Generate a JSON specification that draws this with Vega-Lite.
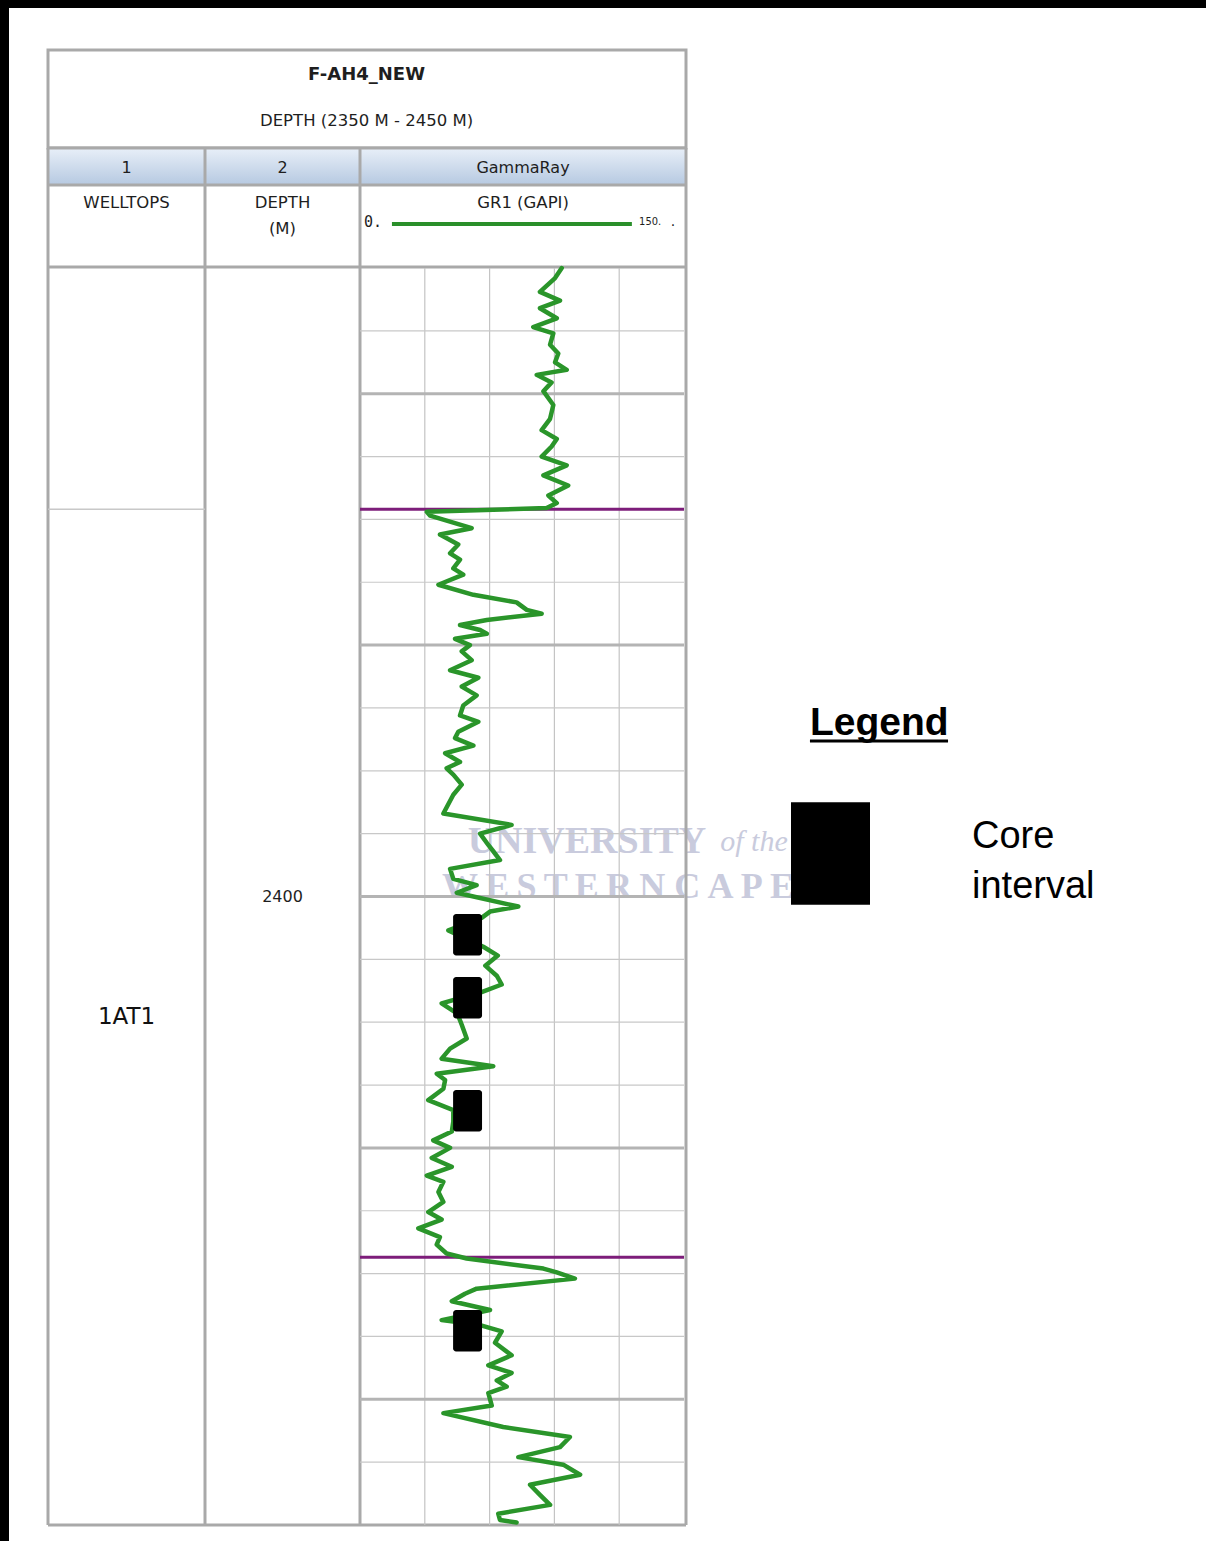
{
  "$schema": "https://vega.github.io/schema/vega-lite/v6.json",
  "width": 1206,
  "height": 1541,
  "autosize": {"type": "none"},
  "padding": 0,
  "background": "white",
  "config": {"view": {"stroke": null}},
  "datasets": {
    "gr": [
      {"depth":2350.0,"gr":93.4},{"depth":2350.8,"gr":90.3},{"depth":2351.9,"gr":83.3},{"depth":2352.6,"gr":92.6},
      {"depth":2353.2,"gr":83.3},{"depth":2354.0,"gr":91.1},{"depth":2354.7,"gr":80.2},{"depth":2355.2,"gr":89.5},
      {"depth":2356.1,"gr":88.0},{"depth":2356.8,"gr":91.8},{"depth":2357.5,"gr":90.3},{"depth":2358.1,"gr":95.7},
      {"depth":2358.5,"gr":81.8},{"depth":2359.1,"gr":88.7},{"depth":2359.8,"gr":84.9},{"depth":2360.9,"gr":89.5},
      {"depth":2362.0,"gr":88.0},{"depth":2362.9,"gr":84.1},{"depth":2363.6,"gr":91.1},{"depth":2364.2,"gr":88.7},
      {"depth":2365.0,"gr":84.1},{"depth":2365.7,"gr":95.7},{"depth":2366.5,"gr":84.9},{"depth":2367.3,"gr":96.4},
      {"depth":2368.1,"gr":87.2},{"depth":2368.7,"gr":91.1},{"depth":2369.1,"gr":86.4},{"depth":2369.4,"gr":30.9},
      {"depth":2369.7,"gr":32.4},{"depth":2370.7,"gr":51.7},{"depth":2371.2,"gr":37.0},{"depth":2372.0,"gr":45.5},
      {"depth":2372.7,"gr":41.7},{"depth":2373.2,"gr":46.3},{"depth":2373.9,"gr":43.2},{"depth":2374.4,"gr":47.8},
      {"depth":2375.2,"gr":36.3},{"depth":2376.0,"gr":52.5},{"depth":2376.6,"gr":72.5},{"depth":2377.2,"gr":77.2},
      {"depth":2377.5,"gr":84.1},{"depth":2378.0,"gr":58.7},{"depth":2378.4,"gr":46.3},{"depth":2378.8,"gr":55.6},
      {"depth":2379.1,"gr":58.7},{"depth":2379.5,"gr":44.0},{"depth":2380.0,"gr":50.9},{"depth":2380.5,"gr":47.1},
      {"depth":2381.2,"gr":51.7},{"depth":2382.0,"gr":41.7},{"depth":2382.6,"gr":54.8},{"depth":2383.3,"gr":47.1},
      {"depth":2384.0,"gr":54.0},{"depth":2384.8,"gr":47.8},{"depth":2385.6,"gr":46.3},{"depth":2386.1,"gr":54.8},
      {"depth":2386.9,"gr":45.5},{"depth":2387.4,"gr":44.0},{"depth":2388.0,"gr":52.5},{"depth":2388.6,"gr":39.4},
      {"depth":2389.3,"gr":46.3},{"depth":2389.8,"gr":40.1},{"depth":2390.3,"gr":43.2},{"depth":2391.1,"gr":47.1},
      {"depth":2391.9,"gr":43.2},{"depth":2393.4,"gr":38.6},{"depth":2394.3,"gr":70.2},{"depth":2395.0,"gr":55.6},
      {"depth":2395.9,"gr":59.4},{"depth":2396.4,"gr":61.7},{"depth":2397.1,"gr":64.8},{"depth":2397.8,"gr":41.7},
      {"depth":2398.6,"gr":43.2},{"depth":2399.1,"gr":54.0},{"depth":2399.7,"gr":44.8},{"depth":2400.8,"gr":73.3},
      {"depth":2401.2,"gr":60.2},{"depth":2401.7,"gr":56.3},{"depth":2402.7,"gr":40.9},{"depth":2404.0,"gr":57.1},
      {"depth":2404.7,"gr":63.8},{"depth":2405.5,"gr":58.0},{"depth":2406.3,"gr":63.3},{"depth":2407.0,"gr":65.6},
      {"depth":2407.6,"gr":56.3},{"depth":2408.5,"gr":37.8},{"depth":2409.2,"gr":44.0},{"depth":2409.5,"gr":45.5},
      {"depth":2410.2,"gr":47.1},{"depth":2411.3,"gr":49.4},{"depth":2412.1,"gr":41.7},{"depth":2412.9,"gr":37.8},
      {"depth":2413.5,"gr":61.7},{"depth":2414.1,"gr":35.5},{"depth":2414.6,"gr":39.4},{"depth":2415.3,"gr":38.6},
      {"depth":2416.2,"gr":31.6},{"depth":2417.0,"gr":43.2},{"depth":2417.9,"gr":43.2},{"depth":2418.7,"gr":42.5},
      {"depth":2419.4,"gr":33.9},{"depth":2420.0,"gr":41.7},{"depth":2420.8,"gr":33.2},{"depth":2421.5,"gr":42.5},
      {"depth":2422.2,"gr":30.9},{"depth":2422.7,"gr":38.6},{"depth":2423.5,"gr":36.3},{"depth":2424.3,"gr":38.6},
      {"depth":2425.1,"gr":31.6},{"depth":2425.7,"gr":37.8},{"depth":2426.4,"gr":27.0},{"depth":2427.1,"gr":37.0},
      {"depth":2427.7,"gr":35.5},{"depth":2428.4,"gr":40.1},{"depth":2428.8,"gr":49.4},{"depth":2429.6,"gr":84.9},
      {"depth":2429.9,"gr":91.1},{"depth":2430.4,"gr":99.5},{"depth":2431.2,"gr":54.0},{"depth":2431.6,"gr":48.6},
      {"depth":2432.2,"gr":42.5},{"depth":2432.9,"gr":60.2},{"depth":2433.7,"gr":37.8},{"depth":2434.1,"gr":55.6},
      {"depth":2434.6,"gr":65.6},{"depth":2435.5,"gr":62.5},{"depth":2436.5,"gr":70.2},{"depth":2437.3,"gr":59.4},
      {"depth":2437.9,"gr":70.2},{"depth":2438.5,"gr":63.3},{"depth":2439.0,"gr":67.9},{"depth":2439.5,"gr":59.4},
      {"depth":2440.5,"gr":61.0},{"depth":2441.1,"gr":38.6},{"depth":2442.2,"gr":66.3},{"depth":2443.0,"gr":97.2},
      {"depth":2443.8,"gr":92.6},{"depth":2444.6,"gr":73.3},{"depth":2445.2,"gr":94.1},{"depth":2446.0,"gr":101.9},
      {"depth":2446.8,"gr":78.7},{"depth":2447.6,"gr":83.3},{"depth":2448.4,"gr":88.0},{"depth":2449.1,"gr":64.0},
      {"depth":2449.6,"gr":64.8},{"depth":2449.8,"gr":72.5}
    ],
    "cores": [
      {"top":2401.4,"base":2404.7,"kind":"Core interval"},
      {"top":2406.4,"base":2409.7,"kind":"Core interval"},
      {"top":2415.4,"base":2418.7,"kind":"Core interval"},
      {"top":2432.9,"base":2436.2,"kind":"Core interval"}
    ],
    "tops": [
      {"name":"1AT1","depth":2369.2},
      {"name":"marker","depth":2428.7}
    ],
    "zones": [
      {"zone":"1AT1","top":2369.2,"base":2450}
    ],
    "tracks": [
      {"slot":0.5,"n":"1","title":"WELLTOPS"},
      {"slot":1.5,"n":"2","title":"DEPTH\n(M)"},
      {"slot":2.5,"n":"GammaRay","title":"GR1 (GAPI)"}
    ],
    "depthGrid": [
      {"depth":2355},{"depth":2360},{"depth":2365},{"depth":2370},{"depth":2375},{"depth":2380},{"depth":2385},
      {"depth":2390},{"depth":2395},{"depth":2400},{"depth":2405},{"depth":2410},{"depth":2415},{"depth":2420},
      {"depth":2425},{"depth":2430},{"depth":2435},{"depth":2440},{"depth":2445}
    ],
    "grGrid": [
      {"gr":30},{"gr":60},{"gr":90},{"gr":120}
    ]
  },
  "resolve": {"scale": {"x": "independent", "y": "independent"}},
  "layer": [
    {
      "data": {"values": [{"page": 1}]},
      "layer": [
        {
          "mark": {"type": "rule", "color": "black", "strokeWidth": 16},
          "encoding": {
            "x": {"datum": 0, "type": "quantitative", "scale": {"domain": [0, 1], "range": [0, 1206], "nice": false, "zero": false}, "axis": null},
            "x2": {"datum": 1},
            "y": {"datum": 0, "type": "quantitative", "scale": {"domain": [0, 1], "range": [0, 1541], "nice": false, "zero": false}, "axis": null}
          }
        },
        {
          "mark": {"type": "rule", "color": "black", "strokeWidth": 18},
          "encoding": {
            "x": {"datum": 0, "type": "quantitative", "axis": null},
            "y": {"datum": 0, "type": "quantitative", "axis": null},
            "y2": {"datum": 1}
          }
        },
        {
          "mark": {"type": "text", "font": "Liberation Serif", "fontWeight": "bold", "fontSize": 38, "fill": "#c9cbdd", "align": "center", "baseline": "middle", "text": "UNIVERSITY"},
          "encoding": {
            "x": {"datum": 0.4867, "type": "quantitative", "axis": null},
            "y": {"datum": 0.5464, "type": "quantitative", "axis": null}
          }
        },
        {
          "mark": {"type": "text", "font": "Liberation Serif", "fontStyle": "italic", "fontSize": 30, "fill": "#c9cbdd", "align": "center", "baseline": "middle", "text": "of the"},
          "encoding": {
            "x": {"datum": 0.6252, "type": "quantitative", "axis": null},
            "y": {"datum": 0.5464, "type": "quantitative", "axis": null}
          }
        },
        {
          "mark": {"type": "text", "font": "Liberation Serif", "fontWeight": "bold", "fontSize": 36, "fill": "#c9cbdd", "align": "center", "baseline": "middle", "text": "W\u2009E\u2009S\u2009T\u2009E\u2009R\u2009N C\u2009A\u2009P\u2009E"},
          "encoding": {
            "x": {"datum": 0.5124, "type": "quantitative", "axis": null},
            "y": {"datum": 0.5756, "type": "quantitative", "axis": null}
          }
        },
        {
          "mark": {"type": "rule", "color": "black", "strokeWidth": 3},
          "encoding": {
            "x": {"datum": 0.6716, "type": "quantitative", "axis": null},
            "x2": {"datum": 0.7861},
            "y": {"datum": 0.4809, "type": "quantitative", "axis": null}
          }
        }
      ]
    },
    {
      "layer": [
        {
          "data": {"values": [{"box": "title"}]},
          "mark": {"type": "rect", "fill": "white", "stroke": "#a9a9a9", "strokeWidth": 3},
          "encoding": {
            "x": {"datum": 0, "type": "quantitative", "scale": {"domain": [0, 1, 2, 3], "range": [48, 205, 360, 686], "nice": false, "zero": false}, "axis": null},
            "x2": {"datum": 3},
            "y": {"datum": 0, "type": "quantitative", "scale": {"domain": [0, 1, 2, 3, 4], "range": [50, 148, 185, 267, 1525], "nice": false, "zero": false}, "axis": null},
            "y2": {"datum": 1}
          }
        },
        {
          "data": {"values": [{"box": "band"}]},
          "mark": {"type": "rect", "fill": {"gradient": "linear", "x1": 0, "y1": 0, "x2": 0, "y2": 1, "stops": [{"offset": 0, "color": "#e8eff8"}, {"offset": 1, "color": "#b6c9e1"}]}},
          "encoding": {
            "x": {"datum": 0, "type": "quantitative", "axis": null},
            "x2": {"datum": 3},
            "y": {"datum": 1, "type": "quantitative", "axis": null},
            "y2": {"datum": 2}
          }
        },
        {
          "data": {"values": [{"r": 1}, {"r": 2}, {"r": 3}, {"r": 4}]},
          "mark": {"type": "rule", "color": "#a9a9a9", "strokeWidth": 3},
          "encoding": {
            "x": {"datum": 0, "type": "quantitative", "axis": null},
            "x2": {"datum": 3},
            "y": {"field": "r", "type": "quantitative", "axis": null}
          }
        },
        {
          "data": {"values": [{"c": 0}, {"c": 1}, {"c": 2}, {"c": 3}]},
          "mark": {"type": "rule", "color": "#a9a9a9", "strokeWidth": 3},
          "encoding": {
            "x": {"field": "c", "type": "quantitative", "axis": null},
            "y": {"datum": 1, "type": "quantitative", "axis": null},
            "y2": {"datum": 4}
          }
        },
        {
          "data": {"values": [{"well": "F-AH4_NEW"}]},
          "mark": {"type": "text", "font": "DejaVu Sans", "fontWeight": "bold", "fontSize": 18, "fill": "#1e1e1e", "align": "center", "baseline": "middle", "dy": -24},
          "encoding": {
            "x": {"datum": 2.02, "type": "quantitative", "axis": null},
            "y": {"datum": 0.5, "type": "quantitative", "axis": null},
            "text": {"field": "well"}
          }
        },
        {
          "data": {"values": [{"range": "DEPTH (2350 M - 2450 M)"}]},
          "mark": {"type": "text", "font": "DejaVu Sans", "fontSize": 16.5, "fill": "#1e1e1e", "align": "center", "baseline": "middle", "dy": 22},
          "encoding": {
            "x": {"datum": 2.02, "type": "quantitative", "axis": null},
            "y": {"datum": 0.5, "type": "quantitative", "axis": null},
            "text": {"field": "range"}
          }
        },
        {
          "data": {"name": "tracks"},
          "mark": {"type": "text", "font": "DejaVu Sans", "fontSize": 16, "fill": "#1e1e1e", "align": "center", "baseline": "middle", "dy": 1},
          "encoding": {
            "x": {"field": "slot", "type": "quantitative", "axis": null},
            "y": {"datum": 1.5, "type": "quantitative", "axis": null},
            "text": {"field": "n"}
          }
        },
        {
          "data": {"name": "tracks"},
          "mark": {"type": "text", "font": "DejaVu Sans", "fontSize": 16.5, "fill": "#1e1e1e", "align": "center", "baseline": "top", "dy": 10, "lineBreak": "\n", "lineHeight": 26},
          "encoding": {
            "x": {"field": "slot", "type": "quantitative", "axis": null},
            "y": {"datum": 2, "type": "quantitative", "axis": null},
            "text": {"field": "title"}
          }
        },
        {
          "data": {"values": [{"curve": "GR1"}]},
          "mark": {"type": "rule", "color": "#2a8f2a", "strokeWidth": 4},
          "encoding": {
            "x": {"datum": 2.098, "type": "quantitative", "axis": null},
            "x2": {"datum": 2.834},
            "y": {"datum": 2.476, "type": "quantitative", "axis": null}
          }
        },
        {
          "data": {"values": [{"v": "0."}]},
          "mark": {"type": "text", "font": "DejaVu Sans Mono", "fontSize": 15, "fill": "#1e1e1e", "align": "center", "baseline": "middle"},
          "encoding": {
            "x": {"datum": 2.04, "type": "quantitative", "axis": null},
            "y": {"datum": 2.45, "type": "quantitative", "axis": null},
            "text": {"field": "v"}
          }
        },
        {
          "data": {"values": [{"v": "150."}]},
          "mark": {"type": "text", "font": "DejaVu Sans Condensed", "fontSize": 11, "fill": "#1e1e1e", "align": "center", "baseline": "middle"},
          "encoding": {
            "x": {"datum": 2.89, "type": "quantitative", "axis": null},
            "y": {"datum": 2.45, "type": "quantitative", "axis": null},
            "text": {"field": "v"}
          }
        },
        {
          "data": {"values": [{"v": "."}]},
          "mark": {"type": "text", "font": "DejaVu Sans", "fontSize": 14, "fill": "#1e1e1e", "align": "center", "baseline": "middle"},
          "encoding": {
            "x": {"datum": 2.96, "type": "quantitative", "axis": null},
            "y": {"datum": 2.45, "type": "quantitative", "axis": null},
            "text": {"field": "v"}
          }
        }
      ]
    },
    {
      "resolve": {"scale": {"x": "independent"}},
      "layer": [
        {
          "layer": [
            {
              "data": {"name": "zones"},
              "mark": {"type": "rule", "color": "#c8c8c8", "strokeWidth": 1.5},
              "encoding": {
                "x": {"datum": 0, "type": "quantitative", "scale": {"domain": [0, 1, 2, 3], "range": [48, 205, 360, 686], "nice": false, "zero": false}, "axis": null},
                "x2": {"datum": 1},
                "y": {"field": "top", "type": "quantitative", "scale": {"domain": [2350, 2450], "range": [268, 1525], "nice": false, "zero": false}, "axis": null}
              }
            },
            {
              "data": {"name": "zones"},
              "transform": [{"calculate": "(datum.top + datum.base) / 2", "as": "mid"}],
              "mark": {"type": "text", "font": "DejaVu Sans", "fontSize": 23, "fill": "#111111", "align": "center", "baseline": "middle"},
              "encoding": {
                "x": {"datum": 0.5, "type": "quantitative", "axis": null},
                "y": {"field": "mid", "type": "quantitative", "axis": null},
                "text": {"field": "zone"}
              }
            },
            {
              "data": {"values": [{"depth": 2400}]},
              "mark": {"type": "text", "font": "DejaVu Sans", "fontSize": 16, "fill": "#1e1e1e", "align": "center", "baseline": "middle"},
              "encoding": {
                "x": {"datum": 1.5, "type": "quantitative", "axis": null},
                "y": {"field": "depth", "type": "quantitative", "axis": null},
                "text": {"field": "depth", "type": "quantitative", "format": "d"}
              }
            }
          ]
        },
        {
          "layer": [
            {
              "data": {"name": "grGrid"},
              "mark": {"type": "rule", "color": "#c4c4c4", "strokeWidth": 1.2},
              "encoding": {
                "x": {"field": "gr", "type": "quantitative", "scale": {"domain": [0, 150], "range": [360, 684], "nice": false, "zero": false}, "axis": null},
                "y": {"datum": 2350, "type": "quantitative", "scale": {"domain": [2350, 2450], "range": [268, 1525], "nice": false, "zero": false}, "axis": null},
                "y2": {"datum": 2450}
              }
            },
            {
              "data": {"name": "depthGrid"},
              "mark": {"type": "rule"},
              "encoding": {
                "x": {"datum": 0, "type": "quantitative", "axis": null},
                "x2": {"datum": 150},
                "y": {"field": "depth", "type": "quantitative", "axis": null},
                "color": {"condition": {"test": "datum.depth % 20 === 0", "value": "#b4b4b4"}, "value": "#c8c8c8"},
                "strokeWidth": {"condition": {"test": "datum.depth % 20 === 0", "value": 3}, "value": 1.2}
              }
            },
            {
              "data": {"name": "tops"},
              "mark": {"type": "rule", "color": "#7d1d7a", "strokeWidth": 3},
              "encoding": {
                "x": {"datum": 0, "type": "quantitative", "axis": null},
                "x2": {"datum": 150},
                "y": {"field": "depth", "type": "quantitative", "axis": null}
              }
            },
            {
              "data": {"name": "gr"},
              "mark": {"type": "line", "color": "#2a952a", "strokeWidth": 4.5, "strokeJoin": "round", "strokeCap": "round"},
              "encoding": {
                "x": {"field": "gr", "type": "quantitative", "axis": null},
                "y": {"field": "depth", "type": "quantitative", "axis": null},
                "order": {"field": "depth", "type": "quantitative"}
              }
            },
            {
              "data": {"name": "cores"},
              "mark": {"type": "rect", "cornerRadius": 3},
              "encoding": {
                "x": {"datum": 43.1, "type": "quantitative", "axis": null},
                "x2": {"datum": 56.5},
                "y": {"field": "top", "type": "quantitative", "axis": null},
                "y2": {"field": "base"},
                "fill": {
                  "field": "kind", "type": "nominal",
                  "scale": {"range": ["#000000"]},
                  "legend": {
                    "title": "Legend", "orient": "none", "legendX": 810, "legendY": 704, "padding": 0,
                    "titleFont": "Liberation Sans", "titleFontSize": 39, "titleFontWeight": "bold", "titleColor": "#000000", "titlePadding": 71,
                    "symbolType": "M-1,-1.3H1V1.3H-1Z", "symbolSize": 6241, "symbolStrokeWidth": 0, "symbolOffset": -19, "symbolOpacity": 1,
                    "labelFont": "Liberation Sans", "labelFontSize": 38, "labelColor": "#000000", "labelOffset": 102, "labelLimit": 400,
                    "labelExpr": "['Core', 'interval']",
                    "encode": {"labels": {"update": {"lineHeight": {"value": 50}, "dy": {"value": -17}}}}
                  }
                }
              }
            }
          ]
        }
      ]
    }
  ]
}
